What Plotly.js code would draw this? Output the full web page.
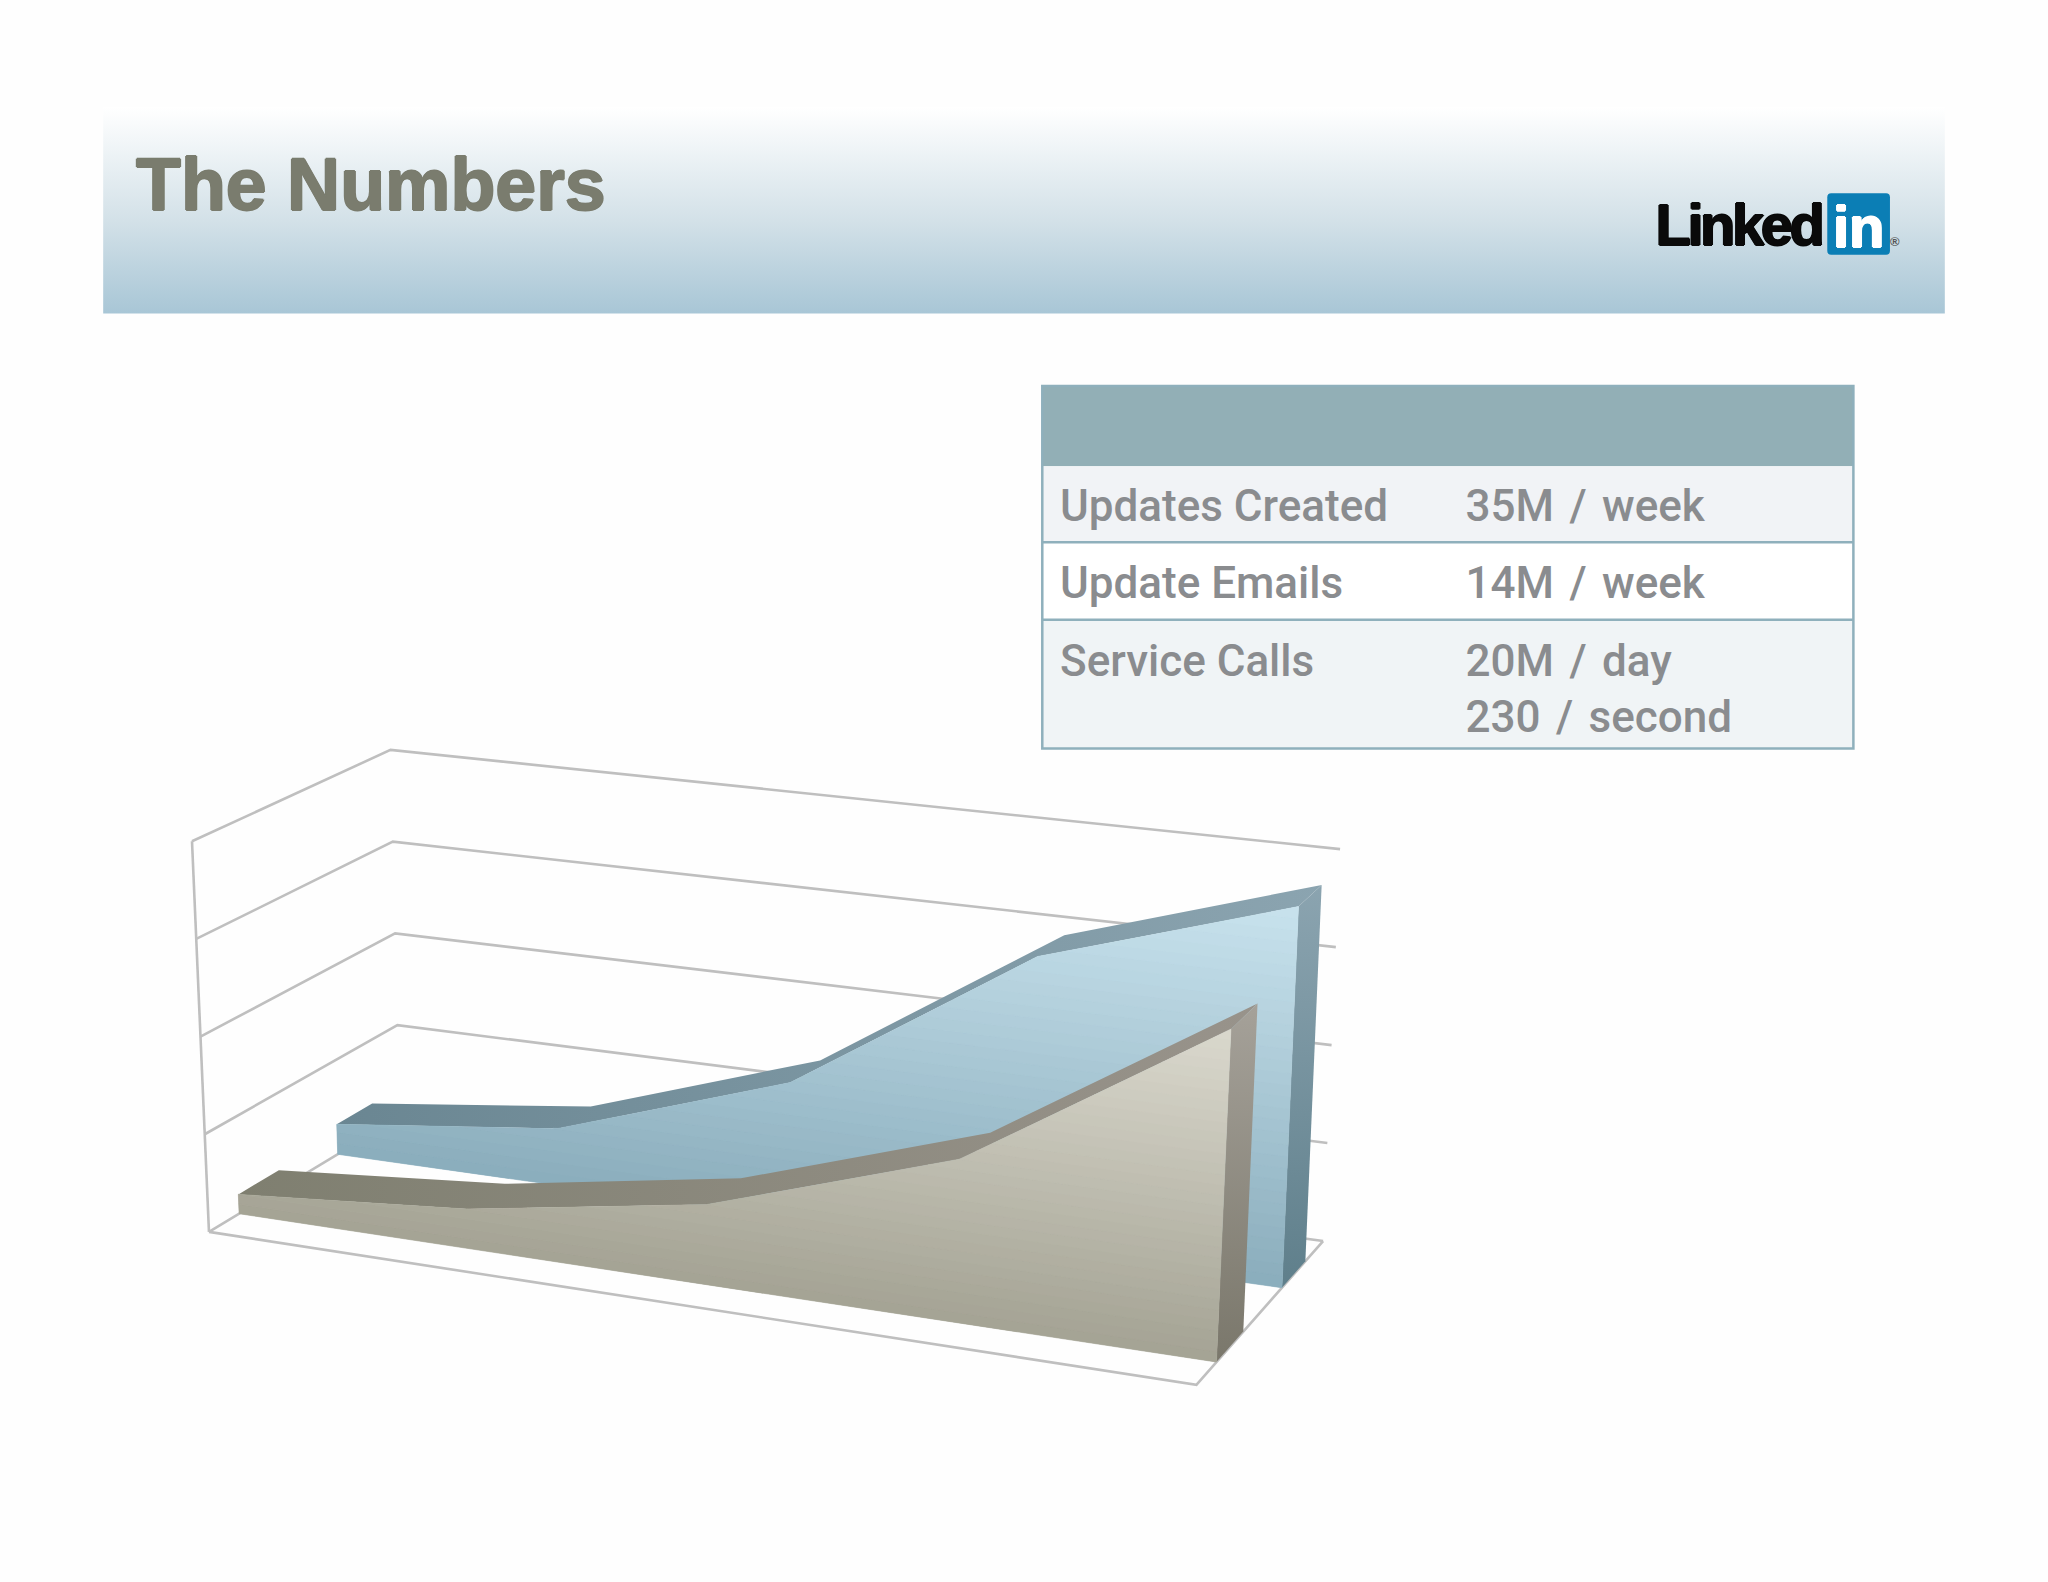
<!DOCTYPE html>
<html>
<head>
<meta charset="utf-8">
<script src="https://cdn.plot.ly/plotly-3.0.1.min.js"></script>
<style>html,body{margin:0;padding:0;background:#fefefe}#c{width:2048px;height:1582px}</style>
</head>
<body>
<div id="c"></div>
<script>
// ---- data ----
const categoryPositions = [0, 1, 2, 3, 4];
const seriesBlue = [8, 15, 35, 75, 95];
const seriesTan = [5, 10, 20, 40, 80];
const gridValues = [0, 25, 50, 75, 100];
const tableLabels = ['Updates Created', 'Update Emails', 'Service Calls', ''];
const tableValues = ['35M / week', '14M / week', '20M / day', '230 / second'];
const titleText = 'The Numbers';

// ---- projection of the 3D box (units: axes of the page) ----
const box = {
  fl: [160, 943], bl: [306, 855], br: [1013, 950], fr: [916, 1060],
  flt: [147, 644], blt: [299, 574], brt: [1026, 650], frt: [930, 738]
};
const persp = 1.09, axisMax = 100, nCat = categoryPositions.length - 1;
const depthBlue = [0.675, 0.86], depthTan = [0.158, 0.37];
function mix(a, b, t) { return [a[0] + (b[0] - a[0]) * t, a[1] + (b[1] - a[1]) * t]; }
function warp(c) { const s = c / nCat; return s / (s + persp * (1 - s)); }
function Pu(u, d, val) {
  const v = val / axisMax;
  const lb = mix(box.fl, box.bl, d), rb = mix(box.fr, box.br, d);
  const lt = mix(box.flt, box.blt, d), rt = mix(box.frt, box.brt, d);
  return mix(mix(lb, rb, u), mix(lt, rt, u), v);
}
function P(c, d, val) { return Pu(warp(c), d, val); }
function poly(pts, fill, extra) {
  const closed = pts.concat([pts[0]]);
  const tr = { type: 'scatter', mode: 'lines', x: closed.map(p => p[0]), y: closed.map(p => p[1]),
    fill: 'toself', line: { width: 0, color: 'rgba(0,0,0,0)' }, hoverinfo: 'skip', showlegend: false };
  if (typeof fill === 'string') tr.fillcolor = fill; else tr.fillgradient = fill;
  return Object.assign(tr, extra || {});
}
function grad(type, c0, c1, start, stop, cm) {
  const cs = cm ? [[0, c0], [cm[0], cm[1]], [1, c1]] : [[0, c0], [1, c1]];
  return { type: type, colorscale: cs, start: start, stop: stop };
}
function line(pts) {
  return { type: 'scatter', mode: 'lines', x: pts.map(p => p[0]), y: pts.map(p => p[1]),
    line: { color: '#bfbfbf', width: 2.6 }, hoverinfo: 'skip', showlegend: false };
}
const traces = [];

// banner
traces.push(poly([[79, 82], [1489, 82], [1489, 240], [79, 240]],
  grad('vertical', '#ffffff', '#a8c6d6', 82, 240, [0.55, '#d3e1e8'])));

// walls and floor
gridValues.forEach(g => {
  traces.push(line([P(0, 0, g), P(0, 1, g), P(nCat, 1, g)]));
});
traces.push(line([P(0, 0, 0), P(0, 0, axisMax)]));
traces.push(line([P(0, 0, 0), P(nCat, 0, 0), P(nCat, 1, 0)]));

// shading of a front face follows the value axis: split under the series in value bands
function hex(c) { return [1, 3, 5].map(i => parseInt(c.substr(i, 2), 16)); }
function shade(c0, c1, t) {
  const a = hex(c0), b = hex(c1);
  return 'rgb(' + a.map((x, i) => Math.round(x + (b[i] - x) * t)).join(',') + ')';
}
function bandPolygon(vals, d, lo, hi) {
  const us = categoryPositions.map(warp), pts = [];
  vals.forEach((val, i) => {
    if (i > 0) {
      const a = vals[i - 1];
      [lo, hi].forEach(level => {
        if (a < level && val > level) pts.push([us[i - 1] + (level - a) / (val - a) * (us[i] - us[i - 1]), level]);
      });
    }
    pts.push([us[i], val]);
  });
  const up = pts.filter(p => p[1] >= lo).map(p => [p[0], Math.min(p[1], hi)]);
  if (!up.length) return null;
  const out = up.map(p => Pu(p[0], d, p[1]));
  out.push(Pu(up[up.length - 1][0], d, lo), Pu(up[0][0], d, lo));
  return out;
}
function addSeries(vals, depth, top, side, front, c0, c1) {
  const [df, db] = depth;
  const frontTop = categoryPositions.map((c, i) => P(c, df, vals[i]));
  const backTop = categoryPositions.map((c, i) => P(c, db, vals[i]));
  const last = nCat;
  traces.push(poly(frontTop.concat(backTop.slice().reverse()), top));
  traces.push(poly([P(last, df, vals[last]), P(last, db, vals[last]), P(last, db, 0), P(last, df, 0)], side));
  traces.push(poly([P(0, df, 0)].concat(frontTop, [P(last, df, 0)]), front));
  const vmax = Math.max.apply(null, vals), n = 32;
  for (let k = 0; k < n; k++) {
    const lo = vmax * k / n, hi = vmax * (k + 1) / n;
    const pg = bandPolygon(vals, df, lo, hi);
    if (!pg) continue;
    const col = shade(c0, c1, (k + 0.5) / n);
    traces.push(poly(pg, col, { line: { width: 0.6, color: col } }));
  }
}
addSeries(seriesBlue, depthBlue,
  grad('horizontal', '#6a8692', '#8ba4b0', 257, 1011),
  grad('vertical', '#8ba4b0', '#5f7f8b', 678, 985),
  grad('vertical', '#c9e3ee', '#8aafbf', 695, 930), '#8aadbc', '#c8e2ed');
addSeries(seriesTan, depthTan,
  grad('horizontal', '#7f7f70', '#98938b', 183, 961),
  grad('vertical', '#a5a199', '#7a776b', 770, 1042),
  grad('vertical', '#dad8ce', '#a19f90', 785, 1042), '#a4a394', '#dad8cd');

// table shapes
const tx0 = 798, tx1 = 1419;
const rowEdges = [295.5, 357, 415, 474.5, 573];
const rowFills = ['#92afb6', '#f1f3f6', '#ffffff', '#f0f4f6'];
const tableLine = '#8fb0bc';
const shapes = [];
rowFills.forEach((f, i) => shapes.push({ type: 'rect', x0: tx0, x1: tx1, y0: rowEdges[i], y1: rowEdges[i + 1],
  fillcolor: f, line: { width: 0 }, layer: 'below' }));
rowEdges.slice(2, 4).forEach(y => shapes.push({ type: 'line', x0: tx0, x1: tx1, y0: y, y1: y, line: { color: tableLine, width: 2.5 } }));
shapes.push({ type: 'rect', x0: tx0, x1: tx1, y0: rowEdges[0], y1: rowEdges[4], line: { color: tableLine, width: 2.5 } });
// logo tile
const lx0 = 1399, lx1 = 1447, ly0 = 148, ly1 = 195, r = 3;
shapes.push({ type: 'path', fillcolor: '#0b7eb5', line: { width: 0 },
  path: `M${lx0 + r},${ly0} L${lx1 - r},${ly0} Q${lx1},${ly0} ${lx1},${ly0 + r} L${lx1},${ly1 - r} Q${lx1},${ly1} ${lx1 - r},${ly1} L${lx0 + r},${ly1} Q${lx0},${ly1} ${lx0},${ly1 - r} L${lx0},${ly0 + r} Q${lx0},${ly0} ${lx0 + r},${ly0} Z` });

// texts
const ann = [], css = [];
function txt(t, x, y, size, color, fam, weight, xa, shadow, style) {
  const font = { size: size, color: color, family: fam, weight: weight || 400 };
  if (shadow) font.shadow = shadow;
  if (style) css.push(`.annotation[data-index="${ann.length}"] text{${style}}`);
  ann.push({ text: t, x: x, y: y, xref: 'x', yref: 'y', showarrow: false, xanchor: xa || 'left', yanchor: 'middle',
    font: font, borderpad: 0 });
}
function thick(c) { return `1px 0 0 ${c}, -1px 0 0 ${c}, 0 1px 0 ${c}, 0 -1px 0 ${c}`; }
txt(titleText, 103, 141, 73.5, '#7a7c6e', 'Liberation Sans', 700, 'left', thick('#7a7c6e'));
const rowY = [387, 446, 506, 549];
const tf = 'Roboto', ts = 44, tc = '#8a8c8f';
rowY.forEach((y, i) => {
  if (tableLabels[i]) txt(tableLabels[i], 811, y, ts, tc, tf, 500);
  txt(tableValues[i], 1125, y, ts, tc, tf, 500, 'left', null, 'word-spacing:4.5px');
});
txt('Linked', 1259, 172, 58, '#0a0a0a', 'Liberation Sans', 700, 'left', thick('#0a0a0a'), 'letter-spacing:-3.5px');
txt('in', 1423, 173, 58, '#ffffff', 'Liberation Sans', 700, 'center', thick('#ffffff'));
txt('®', 1451, 185, 13, '#555555', 'Liberation Sans', 700, 'center');
const st = document.createElement('style');
st.textContent = css.join('\n');
document.head.appendChild(st);

const axis = { visible: false, showgrid: false, zeroline: false, fixedrange: true };
Plotly.newPlot('c', traces, {
  width: 2048, height: 1582, margin: { l: 0, r: 0, t: 0, b: 0 },
  paper_bgcolor: '#fefefe', plot_bgcolor: '#fefefe', showlegend: false,
  xaxis: Object.assign({ range: [0, 1568] }, axis),
  yaxis: Object.assign({ range: [1211, 0] }, axis),
  shapes: shapes, annotations: ann
}, { displayModeBar: false, staticPlot: true });
</script>
</body>
</html>
